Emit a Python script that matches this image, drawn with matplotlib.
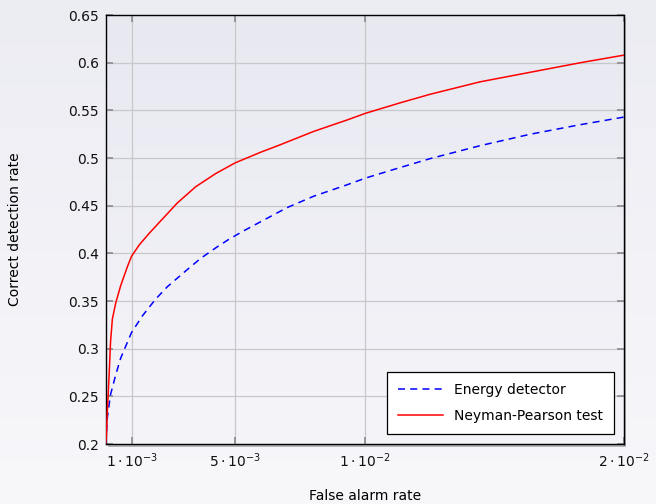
import numpy as np
import matplotlib
matplotlib.use("Agg")
import matplotlib.pyplot as plt
from matplotlib.patches import Rectangle
from matplotlib.colors import LinearSegmentedColormap

# Data
np_x = [0.0, 0.000027, 0.000066, 0.00013, 0.00019, 0.00026, 0.00039, 0.00058, 0.00084,
        0.0010, 0.0013, 0.00168, 0.00219, 0.00277, 0.00348, 0.00425, 0.0050,
        0.00597, 0.00674, 0.00803, 0.00932, 0.01003, 0.01137, 0.01253, 0.01445,
        0.01638, 0.01831, 0.0200]
np_y = [0.2, 0.2068, 0.2345, 0.269, 0.307, 0.331, 0.348, 0.366, 0.386,
        0.397, 0.409, 0.421, 0.436, 0.453, 0.470, 0.4838, 0.495,
        0.506, 0.514, 0.528, 0.540, 0.547, 0.558, 0.567, 0.580,
        0.590, 0.600, 0.608]

ed_x = [0.0, 0.000066, 0.00019, 0.00039, 0.00058, 0.0010, 0.00142, 0.00193, 0.00238,
        0.00328, 0.00368, 0.00426, 0.00477, 0.00535, 0.0070, 0.00803, 0.00932,
        0.01003, 0.01111, 0.01253, 0.01445, 0.01638, 0.01831, 0.0200]
ed_y = [0.2, 0.2275, 0.252, 0.2725, 0.290, 0.317, 0.3345, 0.352, 0.365,
        0.386, 0.395, 0.406, 0.415, 0.424, 0.448, 0.460, 0.472,
        0.479, 0.488, 0.4995, 0.513, 0.525, 0.535, 0.543]

xticks = [0.001, 0.005, 0.01, 0.02]
xticklabels = [r'$1\cdot10^{-3}$', r'$5\cdot10^{-3}$', r'$1\cdot10^{-2}$', r'$2\cdot10^{-2}$']
yticks = [0.2, 0.25, 0.3, 0.35, 0.4, 0.45, 0.5, 0.55, 0.6, 0.65]
yticklabels = ['0.2', '0.25', '0.3', '0.35', '0.4', '0.45', '0.5', '0.55', '0.6', '0.65']

plt.rcParams['font.family'] = ['DejaVu Sans']
plt.rcParams['mathtext.fontset'] = 'dejavusans'

fig = plt.figure(figsize=(6.56, 5.04), dpi=100)

# figure background gradient
bg = fig.add_axes([0, 0, 1, 1], zorder=-10)
grad = np.linspace(0, 1, 256).reshape(-1, 1)
cm_bg = LinearSegmentedColormap.from_list('bg', ['#ececf3', '#f8f8fb'])
bg.imshow(grad, aspect='auto', cmap=cm_bg, extent=[0, 1, 0, 1], origin='upper')
bg.set_axis_off()

L, B, W, H = 0.161, 0.119, 0.790, 0.851
# shadow
sh = Rectangle((L + 0.004, B - 0.005), W, H, transform=fig.transFigure,
               facecolor='#b4b4b8', edgecolor='none', zorder=-5)
fig.patches.append(sh)

ax = fig.add_axes([L, B, W, H])
cm_ax = LinearSegmentedColormap.from_list('ax', ['#e8e8f1', '#f5f5f9'])
ax.imshow(grad, aspect='auto', cmap=cm_ax, extent=[0, 1, 0, 1], origin='upper',
          transform=ax.transAxes, zorder=0)

ax.plot(ed_x, ed_y, color='#0000ff', linestyle=(0, (4.6, 3.4)), linewidth=1.1,
        label='Energy detector', zorder=3)
ax.plot(np_x, np_y, color='#ff0000', linestyle='-', linewidth=1.1,
        label='Neyman-Pearson test', zorder=3)

ax.set_xlim(0, 0.02)
ax.set_ylim(0.2, 0.65)
ax.set_xticks(xticks)
ax.set_xticklabels(xticklabels)
ax.set_yticks(yticks)
ax.set_yticklabels(yticklabels)
ax.grid(True, color='#c8c8cc', linewidth=0.9, zorder=1)
ax.set_axisbelow(True)
ax.tick_params(direction='in', length=5, width=1.2, color='#8a8a8e',
               top=True, right=True, labelsize=10, labelcolor='#111111', pad=5)
for s in ax.spines.values():
    s.set_color('black')
    s.set_linewidth(1.0)

ax.set_xlabel('False alarm rate', fontsize=10, labelpad=14)
ax.set_ylabel('Correct detection rate', fontsize=10, labelpad=33)

leg = ax.legend(loc='lower right', bbox_to_anchor=(0.981, 0.023), borderaxespad=0,
                fancybox=False, framealpha=1, edgecolor='black', facecolor='white',
                fontsize=10, handlelength=3.2, borderpad=0.8, labelspacing=0.85)
leg.get_frame().set_linewidth(0.9)

fig.savefig('out.png', dpi=100)
